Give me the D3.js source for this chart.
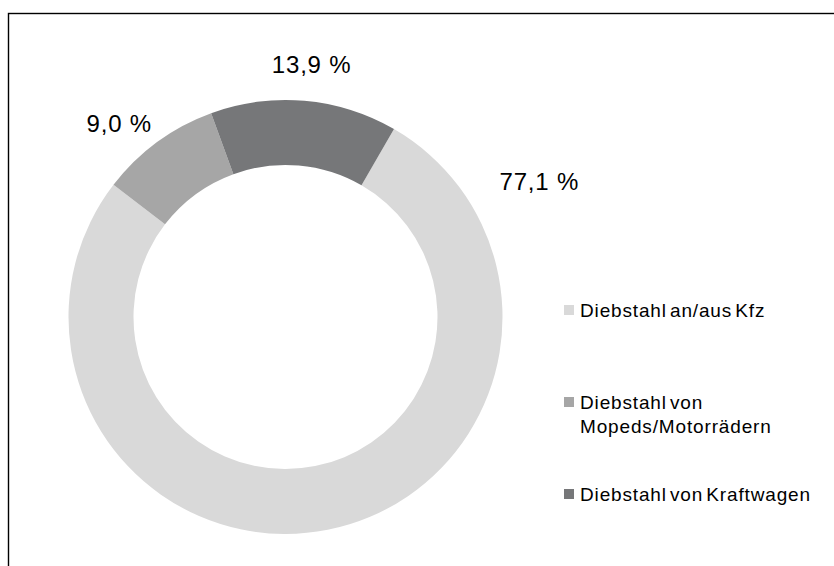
<!DOCTYPE html>
<html>
<head>
<meta charset="utf-8">
<script src="https://cdn.jsdelivr.net/npm/d3@7/dist/d3.min.js"></script>
<style>
  html, body { margin: 0; padding: 0; background: #fff; }
  text { font-family: "Liberation Sans", Arial, sans-serif; fill: #000; }
</style>
</head>
<body>
<div id="chart"></div>
<script>
// data
const categories = ["Diebstahl an/aus Kfz", "Diebstahl von Mopeds/Motorrädern", "Diebstahl von Kraftwagen"];
const legendLines = [["Diebstahl an/aus Kfz"], ["Diebstahl von", "Mopeds/Motorrädern"], ["Diebstahl von Kraftwagen"]];
const shares = [77.1, 9.0, 13.9];
const shareLabels = ["77,1 %", "9,0 %", "13,9 %"];
const colors = ["#d9d9d9", "#a6a6a6", "#767779"];

// where the percentage labels sit (angle in degrees from 12 o'clock, radius)
const labelAngles = [61.8, -40.7, 5.9];
const labelRadii = [288, 255, 254];

const w = 834, h = 566;
const cx = 285.5, cy = 317;
const outerR = 217, innerR = 152;

const svg = d3.select("#chart")
              .append("svg")
              .attr("width", w)
              .attr("height", h);

// outer frame, runs off the right and bottom edge
svg.append("rect")
   .attr("x", 8.5)
   .attr("y", 13.5)
   .attr("width", w)
   .attr("height", h)
   .attr("fill", "none")
   .attr("stroke", "#000")
   .attr("stroke-width", 1.4);

const toRad = (deg) => deg * Math.PI / 180;

const pie = d3.pie()
              .sort(null)
              .value((d) => d)
              .startAngle(toRad(30))
              .endAngle(toRad(390));

const arc = d3.arc()
              .innerRadius(innerR)
              .outerRadius(outerR);

const g = svg.append("g")
             .attr("transform", "translate(" + cx + "," + cy + ")");

g.selectAll("path")
 .data(pie(shares))
 .enter()
 .append("path")
 .attr("d", arc)
 .attr("fill", (d, i) => colors[i]);

// percentage labels
const labelArc = d3.arc();
g.selectAll("text.pct")
 .data(shareLabels)
 .enter()
 .append("text")
 .attr("class", "pct")
 .attr("transform", (d, i) => {
   const a = toRad(labelAngles[i]);
   const c = labelArc.centroid({innerRadius: labelRadii[i], outerRadius: labelRadii[i], startAngle: a, endAngle: a});
   return "translate(" + c[0] + "," + c[1] + ")";
 })
 .attr("text-anchor", "middle")
 .attr("dy", "0.36em")
 .style("font-size", "24px")
 .style("letter-spacing", "0.8px")
 .text((d) => d);

// legend
const legendY = d3.scalePoint()
                  .domain(categories)
                  .range([317, 501]);

const legend = svg.append("g");
const items = legend.selectAll("g")
                    .data(categories)
                    .enter()
                    .append("g")
                    .attr("transform", (d) => "translate(564," + legendY(d) + ")");

items.append("rect")
     .attr("x", 0)
     .attr("y", -12)
     .attr("width", 10)
     .attr("height", 10)
     .attr("fill", (d, i) => colors[i]);

items.append("text")
     .attr("x", 16)
     .attr("y", 0)
     .style("font-size", "19px")
     .style("letter-spacing", "0.85px")
     .style("word-spacing", "-3px")
     .selectAll("tspan")
     .data((d, i) => legendLines[i])
     .enter()
     .append("tspan")
     .attr("x", 16)
     .attr("dy", (d, j) => j === 0 ? 0 : 23.5)
     .text((d) => d);
</script>
</body>
</html>
